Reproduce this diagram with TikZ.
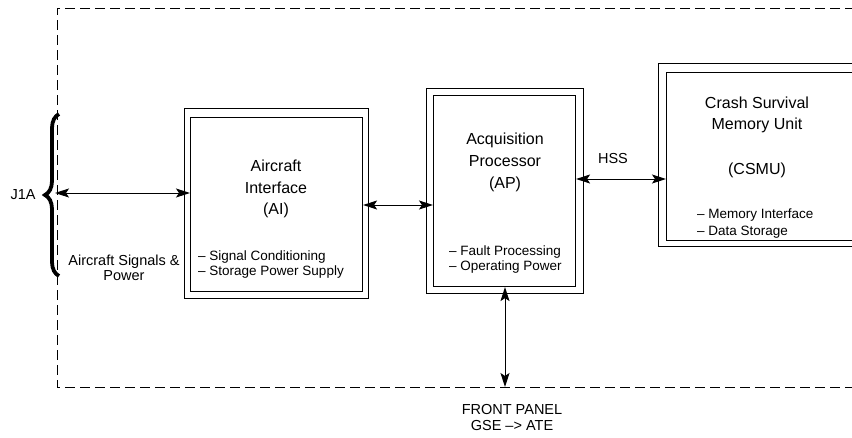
\documentclass[tikz,border=0pt]{standalone}
\usepackage{fontspec}
\setmainfont{Liberation Sans}
\usetikzlibrary{arrows.meta,decorations.pathreplacing}
\begin{document}
\begin{tikzpicture}[x=1pt,y=-1pt,
  box/.style={draw,line width=1.1pt,inner sep=0pt,anchor=north west},
  outerbox/.style={draw,line width=0.8pt,inner sep=0pt,anchor=north west},
  link/.style={line width=1pt,{Stealth[length=14pt,width=9pt,inset=3pt]}-{Stealth[length=14pt,width=9pt,inset=3pt]}},
  title/.style={font=\fontsize{16}{19}\selectfont,anchor=base,inner sep=0pt},
  bullet/.style={font=\fontsize{13.5}{15}\selectfont,anchor=base west,inner sep=0pt},
  lbl/.style={font=\fontsize{14.5}{16}\selectfont,anchor=base,inner sep=0pt},
  frame/.style={line width=0.9pt,dash pattern=on 10pt off 5pt}]
\useasboundingbox (0,0) rectangle (852,437);
\clip (0,0) rectangle (852,437);
% dashed frame
\draw[frame] (870,8) -- (57,8) -- (57,387) -- (870,387);
% brace
\draw[line width=3.8pt,decorate,decoration={brace,amplitude=14pt}] (59,276) -- (59,114);
\node[lbl] (j1a) at (23,199) {J1A};
% boxes
\node[outerbox,minimum width=184pt,minimum height=190pt] (aio) at (184,108) {};
\node[box,minimum width=172pt,minimum height=174pt] (ai) at (190,117) {};
\node[outerbox,minimum width=157pt,minimum height=205pt] (apo) at (426,88) {};
\node[box,minimum width=142pt,minimum height=191pt] (ap) at (433,95) {};
\node[outerbox,minimum width=260pt,minimum height=183pt] (csmuo) at (658,63) {};
\node[box,minimum width=250pt,minimum height=168pt] (csmu) at (666,72) {};
% AI text
\node[title] (ai1) at (276,171) {Aircraft};
\node[title] (ai2) at (276,193) {Interface};
\node[title] (ai3) at (276,214) {(AI)};
\node[bullet] (aib1) at (198,260) {– Signal Conditioning};
\node[bullet] (aib2) at (198,275) {– Storage Power Supply};
% AP text
\node[title] (ap1) at (505,144) {Acquisition};
\node[title] (ap2) at (505,166) {Processor};
\node[title] (ap3) at (505,188) {(AP)};
\node[bullet] (apb1) at (449,255) {– Fault Processing};
\node[bullet] (apb2) at (449,270) {– Operating Power};
% CSMU text
\node[title] (cs1) at (757,108) {Crash Survival};
\node[title] (cs2) at (757,129) {Memory Unit};
\node[title] (cs3) at (757,174) {(CSMU)};
\node[bullet] (csb1) at (697,218) {– Memory Interface};
\node[bullet] (csb2) at (697,235) {– Data Storage};
% labels
\node[lbl] (sig1) at (124,265) {Aircraft Signals \&};
\node[lbl] (sig2) at (124,280) {Power};
\node[lbl] (hss) at (613,163) {HSS};
\node[lbl] (fp1) at (512,414) {FRONT PANEL};
\node[lbl] (fp2) at (512,430) {GSE –> ATE};
% connectors
\coordinate (jl) at (55,193);
\coordinate (m1) at (0,205);
\coordinate (m2) at (0,179);
\coordinate (fp) at (505,387);
\draw[link] (jl) -- (jl -| ai.west);
\draw[link] (ai.east |- m1) -- (ap.west |- m1);
\draw[link] (ap.east |- m2) -- (csmu.west |- m2);
\draw[link] (ap.south -| fp) -- (fp);
\end{tikzpicture}
\end{document}
